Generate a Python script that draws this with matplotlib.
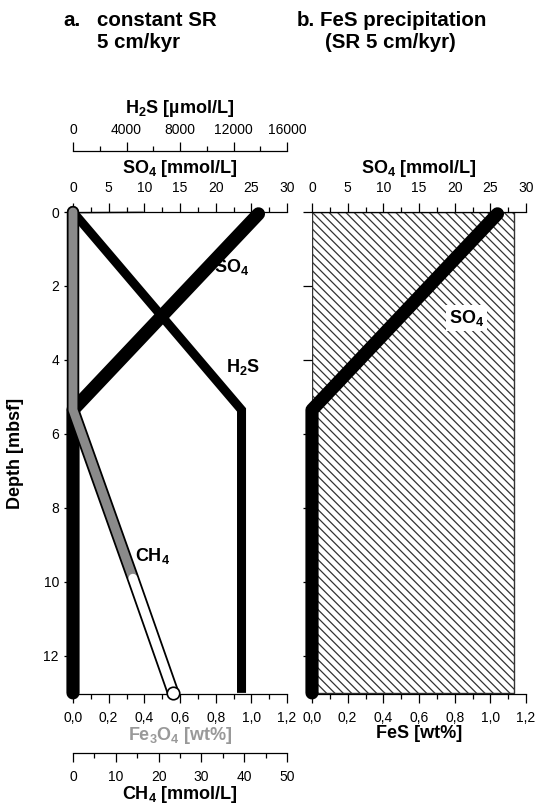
import numpy as np
import matplotlib
matplotlib.use("Agg")
import matplotlib.pyplot as plt
from matplotlib.ticker import MultipleLocator, FuncFormatter

plt.rcParams['font.family'] = ['Liberation Sans', 'DejaVu Sans']
plt.rcParams['mathtext.fontset'] = 'custom'
plt.rcParams['mathtext.rm'] = 'Liberation Sans'
plt.rcParams['mathtext.bf'] = 'Liberation Sans:bold'
plt.rcParams['mathtext.default'] = 'bf'
plt.rcParams['hatch.linewidth'] = 0.9
plt.rcParams['xtick.direction'] = 'out'
plt.rcParams['ytick.direction'] = 'out'

# profiles (depth in mbsf)
so4_depth = [0.05, 5.35, 13.0]
so4 = [26.0, 0.0, 0.0]            # mmol/L

h2s_depth = [0.0, 5.35, 13.0]
h2s = [0.0, 12600.0, 12600.0]     # umol/L

ch4_depth = [0.0, 5.35, 9.9, 13.0]
ch4 = [0.0, 0.0, 14.0, 23.4]      # mmol/L

fe3o4_depth = [0.0, 0.03, 13.0]
fe3o4 = [0.39, 0.0, 0.0]          # wt%

fes_depth = [0.0, 13.0]
fes = [1.13, 1.13]                # wt%

depth_ticks = [0, 2, 4, 6, 8, 10, 12]

W, H = 536, 805
fig = plt.figure(figsize=(W / 100, H / 100), dpi=100)

def px2pt(v):
    return v * 0.72

def comma(x, pos):
    return f"{x:.1f}".replace('.', ',')

ax_left = 73 / W
ax_w = 214 / W
ax_bot = 1 - 694 / H
ax_h = (694 - 212) / H
TICK = dict(labelsize=10, width=0.9)
LAB = dict(fontsize=13, fontweight='bold')


def style_x(a, side, major, minor, lim, fmt=None, outward=0, pad=8):
    a.set_xlim(*lim)
    for s in ['top', 'bottom', 'left', 'right']:
        a.spines[s].set_visible(s == side)
    a.spines[side].set_linewidth(0.9)
    if outward:
        a.spines[side].set_position(('outward', px2pt(outward)))
    a.xaxis.set_ticks_position(side)
    a.xaxis.set_label_position(side)
    a.xaxis.set_major_locator(MultipleLocator(major))
    a.xaxis.set_minor_locator(MultipleLocator(minor))
    a.tick_params(axis='x', which='major', length=px2pt(9), pad=px2pt(pad), **TICK)
    a.tick_params(axis='x', which='minor', length=px2pt(5), width=0.9)
    if fmt is not None:
        a.xaxis.set_major_formatter(FuncFormatter(fmt))


# ---- panel a: constant SR ----
ax = fig.add_axes([ax_left, ax_bot, ax_w, ax_h])
ax_so4 = ax.twiny()
ax_h2s = ax.twiny()
ax_ch4 = ax.twiny()

style_x(ax, 'bottom', 0.2, 0.1, (0, 1.2), comma)
style_x(ax_so4, 'top', 5, 2.5, (0, 30))
style_x(ax_h2s, 'top', 4000, 2000, (0, 16000), outward=61, pad=5)
style_x(ax_ch4, 'bottom', 10, 5, (0, 50), outward=59)

ax.set_ylim(13.03, 0)
ax.set_yticks(depth_ticks)
ax.tick_params(axis='y', length=px2pt(9), pad=px2pt(5), **TICK)
ax.set_ylabel('Depth [mbsf]', labelpad=px2pt(19), **LAB)

ax.set_xlabel(r'Fe$_3$O$_4$ [wt%]', color='#999999', labelpad=px2pt(0), **LAB)
ax_so4.set_xlabel(r'SO$_4$ [mmol/L]', labelpad=px2pt(8), **LAB)
ax_h2s.set_xlabel(r'H$_2$S [µmol/L]', labelpad=px2pt(10), **LAB)
ax_ch4.set_xlabel(r'CH$_4$ [mmol/L]', labelpad=px2pt(0), **LAB)

ax.plot(fe3o4, fe3o4_depth, color='#a8a8a8', lw=1.6, clip_on=False)
ax_so4.plot(so4, so4_depth, color='black', lw=9.5, solid_capstyle='round',
            solid_joinstyle='round', clip_on=False)
ax_h2s.plot(h2s, h2s_depth, color='black', lw=6.5, solid_capstyle='butt',
            solid_joinstyle='miter', clip_on=False)
# methane: open circles packed along the profile
ax_ch4.plot(ch4, ch4_depth, color='black', lw=9, solid_capstyle='round', clip_on=False)
ax_ch4.plot(ch4[:3], ch4_depth[:3], color='#8a8a8a', lw=6.4, solid_capstyle='round', clip_on=False)
ax_ch4.plot(ch4[2:], ch4_depth[2:], color='white', lw=6.4, solid_capstyle='round', clip_on=False)
ax_ch4.plot(ch4[-1:], ch4_depth[-1:], 'o', ms=9, mfc='white', mec='black', mew=1.2, clip_on=False)

ax_so4.text(22.3, 1.5, r'SO$_4$', ha='center', va='center', **LAB)
ax_h2s.text(12700, 4.2, r'H$_2$S', ha='center', va='center', **LAB)
ax_ch4.text(18.5, 9.3, r'CH$_4$', ha='center', va='center', **LAB)

# ---- panel b: FeS precipitation ----
axr = fig.add_axes([312 / W, ax_bot, ax_w, ax_h])
axr_so4 = axr.twiny()
style_x(axr, 'bottom', 0.2, 0.1, (0, 1.2), comma)
style_x(axr_so4, 'top', 5, 2.5, (0, 30))
axr.set_ylim(13.03, 0)
axr.set_yticks(depth_ticks)
axr.tick_params(axis='y', length=px2pt(9), labelleft=False, width=0.9)

axr.set_xlabel('FeS [wt%]', labelpad=px2pt(0), **LAB)
axr_so4.set_xlabel(r'SO$_4$ [mmol/L]', labelpad=px2pt(8), **LAB)

axr.fill_betweenx(fes_depth, 0, fes, facecolor='white', edgecolor='#333333',
                  hatch='\\\\\\\\', lw=1.0)
axr_so4.plot(so4, so4_depth, color='black', lw=9.5, solid_capstyle='round',
             solid_joinstyle='round', clip_on=False)
axr_so4.text(21.7, 2.86, r'SO$_4$', ha='center', va='center',
             bbox=dict(facecolor='white', edgecolor='none', pad=2), **LAB)

# panel titles
TT = dict(fontsize=14.8, fontweight='bold', va='center')
fig.text(63 / W, 1 - 21 / H, 'a.', **TT)
fig.text(97 / W, 1 - 21 / H, 'constant SR', **TT)
fig.text(97 / W, 1 - 43 / H, '5 cm/kyr', **TT)
fig.text(297 / W, 1 - 21 / H, 'b.', **TT)
fig.text(320 / W, 1 - 21 / H, 'FeS precipitation', **TT)
fig.text(325 / W, 1 - 43 / H, '(SR 5 cm/kyr)', **TT)

fig.savefig('out.png', dpi=100, facecolor='white')
